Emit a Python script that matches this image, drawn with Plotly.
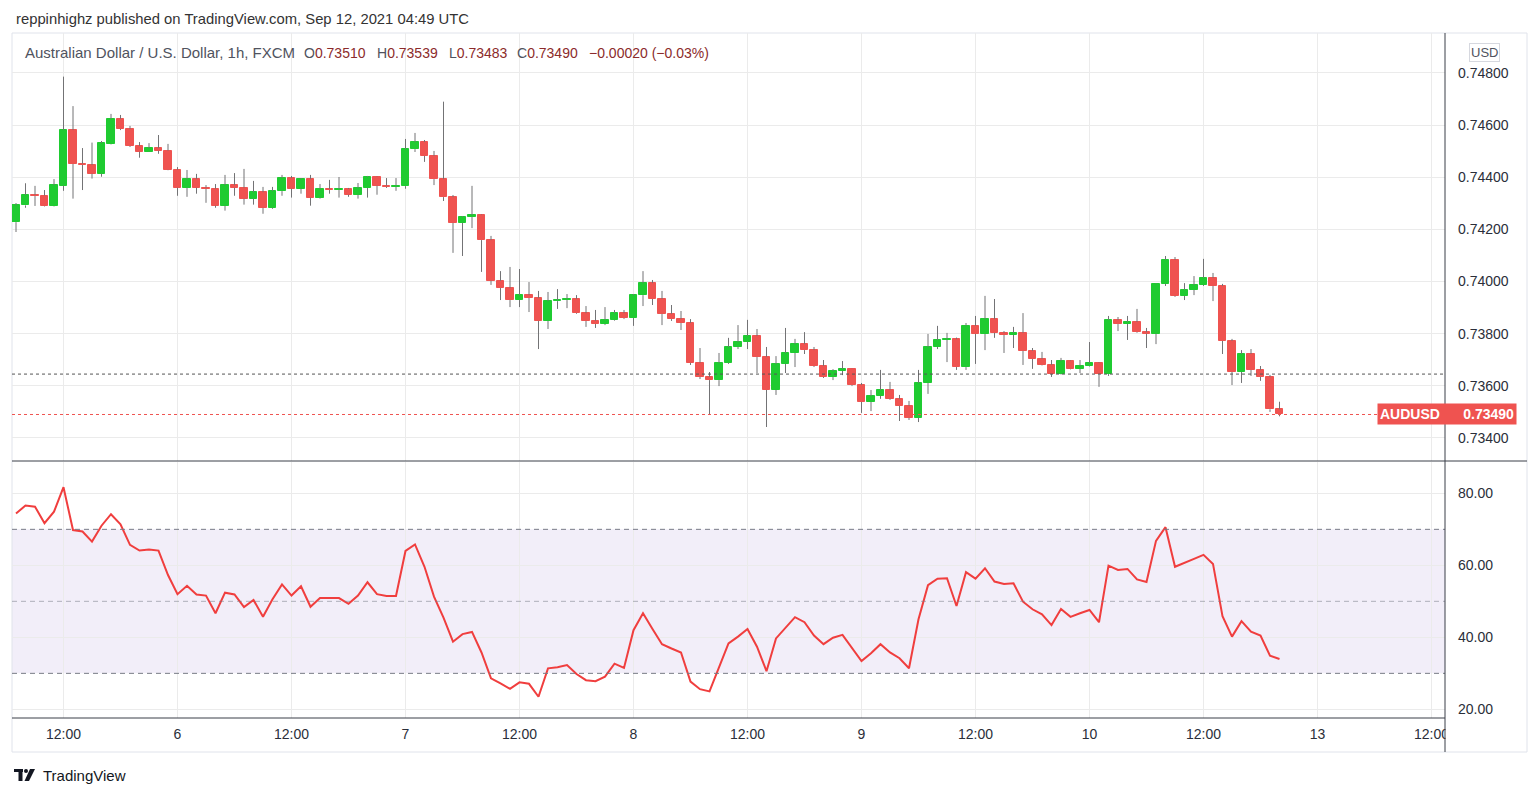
import numpy as np
import plotly.graph_objects as go
from plotly.subplots import make_subplots

# ---------------- data (AUDUSD, 1h, FXCM) ----------------
opens = [0.74228, 0.74292, 0.74332, 0.74330, 0.74290, 0.74368, 0.74581, 0.74452, 0.74447, 0.74414,
         0.74528, 0.74624, 0.74585, 0.74520, 0.74498, 0.74512, 0.74502, 0.74429, 0.74360, 0.74393,
         0.74360, 0.74356, 0.74291, 0.74370, 0.74360, 0.74318, 0.74343, 0.74283, 0.74347, 0.74397,
         0.74356, 0.74393, 0.74322, 0.74355, 0.74351, 0.74355, 0.74333, 0.74359, 0.74401, 0.74368,
         0.74363, 0.74366, 0.74508, 0.74535, 0.74482, 0.74393, 0.74324, 0.74225, 0.74248, 0.74255,
         0.74159, 0.74003, 0.73975, 0.73929, 0.73948, 0.73937, 0.73849, 0.73925, 0.73929, 0.73933,
         0.73879, 0.73849, 0.73837, 0.73853, 0.73879, 0.73860, 0.73948, 0.73994, 0.73933, 0.73876,
         0.73856, 0.73841, 0.73688, 0.73634, 0.73622, 0.73688, 0.73749, 0.73768, 0.73791, 0.73711,
         0.73584, 0.73684, 0.73726, 0.73760, 0.73737, 0.73676, 0.73634, 0.73657, 0.73665, 0.73603,
         0.73538, 0.73561, 0.73584, 0.73550, 0.73523, 0.73477, 0.73611, 0.73749, 0.73776, 0.73779,
         0.73672, 0.73830, 0.73799, 0.73856, 0.73803, 0.73795, 0.73803, 0.73734, 0.73703, 0.73680,
         0.73645, 0.73695, 0.73665, 0.73676, 0.73688, 0.73645, 0.73853, 0.73837, 0.73845, 0.73806,
         0.73800, 0.73991, 0.74083, 0.73945, 0.73968, 0.73987, 0.74014, 0.73983, 0.73772, 0.73653,
         0.73722, 0.73661, 0.73634, 0.73510]
highs = [0.74301, 0.74377, 0.74367, 0.74351, 0.74393, 0.74786, 0.74673, 0.74512, 0.74533, 0.74539,
         0.74643, 0.74639, 0.74597, 0.74535, 0.74531, 0.74562, 0.74528, 0.74439, 0.74428, 0.74413,
         0.74370, 0.74374, 0.74409, 0.74416, 0.74432, 0.74386, 0.74363, 0.74363, 0.74409, 0.74405,
         0.74397, 0.74409, 0.74374, 0.74390, 0.74401, 0.74359, 0.74378, 0.74405, 0.74403, 0.74397,
         0.74397, 0.74547, 0.74570, 0.74543, 0.74501, 0.74690, 0.74332, 0.74251, 0.74367, 0.74257,
         0.74175, 0.74040, 0.74056, 0.74048, 0.73998, 0.73964, 0.73960, 0.73971, 0.73952, 0.73948,
         0.73906, 0.73891, 0.73902, 0.73891, 0.73891, 0.73952, 0.74040, 0.74006, 0.73964, 0.73910,
         0.73887, 0.73856, 0.73745, 0.73653, 0.73726, 0.73784, 0.73833, 0.73853, 0.73818, 0.73749,
         0.73714, 0.73822, 0.73780, 0.73806, 0.73749, 0.73699, 0.73664, 0.73695, 0.73666, 0.73611,
         0.73584, 0.73661, 0.73615, 0.73565, 0.73542, 0.73661, 0.73799, 0.73830, 0.73803, 0.73785,
         0.73841, 0.73868, 0.73945, 0.73933, 0.73810, 0.73826, 0.73879, 0.73745, 0.73730, 0.73699,
         0.73707, 0.73697, 0.73699, 0.73768, 0.73691, 0.73868, 0.73864, 0.73868, 0.73895, 0.73822,
         0.73993, 0.74098, 0.74094, 0.73994, 0.74021, 0.74087, 0.74033, 0.73991, 0.73780, 0.73737,
         0.73741, 0.73676, 0.73642, 0.73539]
lows = [0.74190, 0.74283, 0.74290, 0.74288, 0.74288, 0.74348, 0.74318, 0.74351, 0.74395, 0.74402,
        0.74526, 0.74581, 0.74516, 0.74475, 0.74497, 0.74490, 0.74427, 0.74329, 0.74325, 0.74337,
        0.74302, 0.74283, 0.74272, 0.74329, 0.74295, 0.74295, 0.74260, 0.74279, 0.74329, 0.74322,
        0.74337, 0.74291, 0.74318, 0.74337, 0.74322, 0.74325, 0.74318, 0.74322, 0.74333, 0.74359,
        0.74348, 0.74356, 0.74497, 0.74459, 0.74370, 0.74309, 0.74110, 0.74098, 0.74205, 0.74037,
        0.73987, 0.73929, 0.73902, 0.73902, 0.73883, 0.73741, 0.73818, 0.73895, 0.73898, 0.73876,
        0.73826, 0.73822, 0.73833, 0.73850, 0.73856, 0.73830, 0.73906, 0.73910, 0.73833, 0.73849,
        0.73814, 0.73680, 0.73626, 0.73488, 0.73599, 0.73684, 0.73741, 0.73741, 0.73649, 0.73442,
        0.73565, 0.73649, 0.73672, 0.73722, 0.73672, 0.73630, 0.73622, 0.73641, 0.73599, 0.73496,
        0.73503, 0.73550, 0.73546, 0.73465, 0.73469, 0.73461, 0.73569, 0.73741, 0.73691, 0.73661,
        0.73661, 0.73684, 0.73737, 0.73784, 0.73726, 0.73745, 0.73680, 0.73665, 0.73678, 0.73634,
        0.73643, 0.73663, 0.73649, 0.73674, 0.73596, 0.73638, 0.73810, 0.73776, 0.73803, 0.73745,
        0.73760, 0.73983, 0.73941, 0.73929, 0.73948, 0.73983, 0.73925, 0.73722, 0.73603, 0.73611,
        0.73638, 0.73619, 0.73500, 0.73483]
closes = [0.74292, 0.74332, 0.74328, 0.74290, 0.74370, 0.74581, 0.74451, 0.74447, 0.74414, 0.74531,
          0.74624, 0.74585, 0.74520, 0.74498, 0.74512, 0.74502, 0.74429, 0.74360, 0.74393, 0.74360,
          0.74356, 0.74291, 0.74370, 0.74360, 0.74318, 0.74343, 0.74283, 0.74347, 0.74397, 0.74356,
          0.74393, 0.74322, 0.74355, 0.74351, 0.74355, 0.74333, 0.74359, 0.74401, 0.74368, 0.74363,
          0.74368, 0.74508, 0.74535, 0.74482, 0.74393, 0.74324, 0.74225, 0.74248, 0.74255, 0.74159,
          0.74003, 0.73975, 0.73929, 0.73948, 0.73937, 0.73849, 0.73925, 0.73929, 0.73933, 0.73879,
          0.73849, 0.73837, 0.73853, 0.73879, 0.73860, 0.73948, 0.73994, 0.73933, 0.73876, 0.73856,
          0.73841, 0.73688, 0.73634, 0.73622, 0.73688, 0.73749, 0.73768, 0.73791, 0.73711, 0.73584,
          0.73684, 0.73726, 0.73760, 0.73737, 0.73676, 0.73634, 0.73657, 0.73665, 0.73603, 0.73538,
          0.73561, 0.73584, 0.73550, 0.73523, 0.73477, 0.73611, 0.73749, 0.73776, 0.73779, 0.73672,
          0.73830, 0.73799, 0.73856, 0.73803, 0.73795, 0.73803, 0.73734, 0.73703, 0.73680, 0.73645,
          0.73695, 0.73665, 0.73676, 0.73688, 0.73645, 0.73853, 0.73837, 0.73845, 0.73806, 0.73800,
          0.73991, 0.74083, 0.73945, 0.73968, 0.73987, 0.74014, 0.73983, 0.73772, 0.73653, 0.73722,
          0.73661, 0.73634, 0.73510, 0.73490]
rsi = [74.4, 76.6, 76.3, 71.7, 74.9, 81.7, 69.8, 69.4, 66.6, 71.0,
       74.2, 71.4, 65.7, 64.1, 64.4, 64.1, 57.3, 52.0, 54.3, 51.9,
       51.6, 46.7, 52.4, 51.9, 48.4, 50.4, 45.7, 50.6, 54.7, 51.6,
       54.2, 48.5, 50.9, 50.9, 50.9, 49.3, 51.6, 55.3, 52.0, 51.5,
       51.5, 64.0, 65.8, 59.6, 51.3, 45.5, 38.8, 40.9, 41.5, 35.8,
       28.6, 27.2, 25.7, 27.5, 27.1, 23.5, 31.4, 31.7, 32.3, 29.8,
       28.1, 27.8, 29.1, 32.7, 31.5, 42.0, 46.7, 42.3, 38.1, 36.9,
       35.8, 27.7, 25.6, 25.0, 31.9, 38.3, 40.2, 42.3, 37.4, 30.6,
       39.7, 42.6, 45.6, 44.2, 40.5, 38.1, 39.9, 40.7, 37.1, 33.4,
       35.6, 38.1, 35.8, 34.2, 31.4, 45.0, 54.5, 56.3, 56.4, 48.7,
       58.1, 56.3, 59.2, 55.5, 54.8, 55.0, 49.9, 47.8, 46.4, 43.4,
       47.9, 45.7, 46.7, 47.6, 44.2, 59.9, 58.7, 59.0, 56.1, 55.4,
       66.8, 70.6, 59.6, 60.6, 61.8, 62.9, 60.4, 45.9, 40.2, 44.5,
       41.6, 40.5, 34.9, 34.0]

# time axis: bar number (hours since Sep 5 07:00, weekend gap removed) and labels
tick_hours = [5, 17, 29, 41, 53, 65, 77, 89, 101, 113, 125, 137, 149]
tick_labels = ["12:00", "6", "12:00", "7", "12:00", "8", "12:00", "9", "12:00", "10", "12:00", "13", "12:00"]
price_ticks = [0.734, 0.736, 0.738, 0.740, 0.742, 0.744, 0.746, 0.748]
price_range = [0.733116, 0.749534]
rsi_ticks = [20, 40, 60, 80]
rsi_range = [17.6, 88.7]
rsi_bands = [70, 50, 30]
prev_close_line = 0.73645
symbol = "AUDUSD"

# ---------------- styling ----------------
GREEN = "#1fcb31"
RED = "#ef5350"
WICK = "#737375"
GRID = "#ebebeb"
TXT = "#2a2e39"
FONT = "Liberation Sans"

W, H = 1538, 797
L, R, T, B = 12, 1445, 33, 718  # plot area pixels


def px(x):
    return (x - L) / (R - L)


def py(y):
    return (B - y) / (B - T)


o = np.array(opens)
h = np.array(highs)
lo = np.array(lows)
c = np.array(closes)
idx = np.arange(len(c))
body_lo = np.minimum(o, c)
body_hi = np.maximum(o, c)
colors = np.where(c >= o, GREEN, RED)

wx, wy = [], []
for i in idx:
    wx += [i, i, None, i, i, None]
    wy += [body_hi[i], h[i], None, lo[i], body_lo[i], None]

fig = make_subplots(rows=2, cols=1, shared_xaxes=True, vertical_spacing=0)

fig.add_trace(go.Scatter(x=wx, y=wy, mode="lines", line=dict(color=WICK, width=1),
                         hoverinfo="skip"), row=1, col=1)
fig.add_trace(go.Bar(x=idx, base=body_lo, y=body_hi - body_lo, width=0.74,
                     marker=dict(color=colors, line=dict(color=colors, width=1))), row=1, col=1)
fig.add_trace(go.Scatter(x=idx, y=rsi, mode="lines", line=dict(color="#f03e3e", width=2)),
              row=2, col=1)

xr = [(L - 16) / 9.5, (R - 16) / 9.5]
axis_common = dict(range=xr, tickvals=tick_hours, showgrid=True, gridcolor=GRID, gridwidth=1,
                   zeroline=False, showline=False, ticks="")
fig.update_xaxes(**axis_common)
fig.update_xaxes(showticklabels=False, row=1, col=1)
fig.update_xaxes(ticktext=tick_labels, tickfont=dict(family=FONT, size=14, color=TXT),
                 ticklabelstandoff=6, row=2, col=1)

fig.update_layout(
    width=W, height=H, autosize=False,
    margin=dict(l=L, r=W - R, t=T, b=H - B),
    paper_bgcolor="white", plot_bgcolor="white", showlegend=False, bargap=0,
    yaxis=dict(domain=[py(461), 1], range=price_range,
               side="right", tickvals=price_ticks, tickformat=".5f", showgrid=True, gridcolor=GRID,
               zeroline=False, ticks="", ticklabelstandoff=12,
               tickfont=dict(family=FONT, size=14, color=TXT)),
    yaxis2=dict(domain=[0, py(462)], range=rsi_range, side="right", tickvals=rsi_ticks,
                tickformat=".2f", showgrid=True, gridcolor=GRID, zeroline=False, ticks="",
                ticklabelstandoff=12, tickfont=dict(family=FONT, size=14, color=TXT)),
)

shapes = []
# RSI band and levels
shapes.append(dict(type="rect", xref="x2 domain", yref="y2", x0=0, x1=1, y0=rsi_bands[2], y1=rsi_bands[0],
                   fillcolor="rgba(126,87,194,0.10)", line=dict(width=0), layer="below"))
for lv in rsi_bands:
    shapes.append(dict(type="line", xref="x2 domain", yref="y2", x0=0, x1=1, y0=lv, y1=lv,
                       line=dict(color="#787b86" if lv != 50 else "rgba(120,123,134,0.55)",
                                 width=1, dash="5px,4px")))
# price lines
shapes.append(dict(type="line", xref="paper", yref="y", x0=0, x1=1, y0=prev_close_line, y1=prev_close_line,
                   line=dict(color="#555555", width=1, dash="dot")))
shapes.append(dict(type="line", xref="paper", yref="y", x0=0, x1=px(1377), y0=closes[-1], y1=closes[-1],
                   line=dict(color=RED, width=1, dash="dot")))
# mask the part of the time-axis label that runs under the price scale
shapes.append(dict(type="rect", xref="paper", yref="paper", x0=px(1445.5), x1=px(1526), y0=py(751), y1=py(719),
                   fillcolor="white", line=dict(width=0), layer="above"))
# frame and separators
shapes.append(dict(type="rect", xref="paper", yref="paper", x0=0, x1=px(1527), y0=py(752), y1=1,
                   line=dict(color="#e0e3eb", width=1), layer="below"))
shapes.append(dict(type="line", xref="paper", yref="paper", x0=0, x1=px(1527), y0=py(461), y1=py(461),
                   line=dict(color="#3a3e49", width=1)))
shapes.append(dict(type="line", xref="paper", yref="paper", x0=0, x1=1, y0=0, y1=0,
                   line=dict(color="#3a3e49", width=1)))
shapes.append(dict(type="line", xref="paper", yref="paper", x0=1, x1=1, y0=py(752), y1=1,
                   line=dict(color="#3a3e49", width=1)))
# TradingView logo (simple glyph)
shapes.append(dict(type="rect", xref="paper", yref="paper", x0=px(14), x1=px(23), y0=py(772), y1=py(769),
                   fillcolor="#131722", line=dict(width=0)))
shapes.append(dict(type="rect", xref="paper", yref="paper", x0=px(18.5), x1=px(22.5), y0=py(781), y1=py(769),
                   fillcolor="#131722", line=dict(width=0)))
shapes.append(dict(type="circle", xref="paper", yref="paper", x0=px(24), x1=px(28), y0=py(773), y1=py(769),
                   fillcolor="#131722", line=dict(width=0)))
shapes.append(dict(type="path", xref="paper", yref="paper",
                   path=f"M {px(30)} {py(769)} L {px(35)} {py(769)} L {px(29)} {py(781)} L {px(24.5)} {py(781)} Z",
                   fillcolor="#131722", line=dict(width=0)))
fig.update_layout(shapes=shapes)

ann = []
ann.append(dict(xref="paper", yref="paper", x=px(14), y=py(19), xanchor="left", yanchor="middle",
                text="reppinhighz published on TradingView.com, Sep 12, 2021 04:49 UTC",
                showarrow=False, font=dict(family=FONT, size=14.8, color="#333333")))
ann.append(dict(xref="paper", yref="paper", x=px(23), y=py(53), xanchor="left", yanchor="middle",
                text="Australian Dollar / U.S. Dollar, 1h, FXCM", showarrow=False,
                font=dict(family=FONT, size=15, color="#50535e")))
VAL = "#8c2b2b"
chg = closes[-1] - opens[-1]
pct = chg / opens[-1] * 100
legend_items = [(302, f"O<span style='color:{VAL}'>{opens[-1]:.5f}</span>"),
                (375, f"H<span style='color:{VAL}'>{highs[-1]:.5f}</span>"),
                (447, f"L<span style='color:{VAL}'>{lows[-1]:.5f}</span>"),
                (515, f"C<span style='color:{VAL}'>{closes[-1]:.5f}</span>"),
                (587, f"<span style='color:{VAL}'>\u2212{abs(chg):.5f} (\u2212{abs(pct):.2f}%)</span>")]
for xp, t in legend_items:
    ann.append(dict(xref="paper", yref="paper", x=px(xp), y=py(53), xanchor="left", yanchor="middle",
                    text=t, showarrow=False, font=dict(family=FONT, size=14, color="#50535e")))
ann.append(dict(xref="paper", yref="paper", x=px(1484), y=py(52), xanchor="center", yanchor="middle",
                text="USD", showarrow=False, bordercolor="#d6d8df", borderwidth=1, borderpad=1,
                font=dict(family=FONT, size=13, color="#50535e")))
ann.append(dict(xref="paper", yref="y", x=px(1377), y=closes[-1], xanchor="left", yanchor="middle",
                text=f"<b>{symbol}</b>" + "&nbsp;" * 6 + f"<b>{closes[-1]:.5f}</b>", showarrow=False,
                bgcolor=RED, borderpad=2, font=dict(family=FONT, size=14, color="white")))
ann.append(dict(xref="paper", yref="paper", x=px(41), y=py(775), xanchor="left", yanchor="middle",
                text="TradingView", showarrow=False, font=dict(family=FONT, size=15, color="#131722")))
fig.update_layout(annotations=ann)

fig.write_html("out.html")
